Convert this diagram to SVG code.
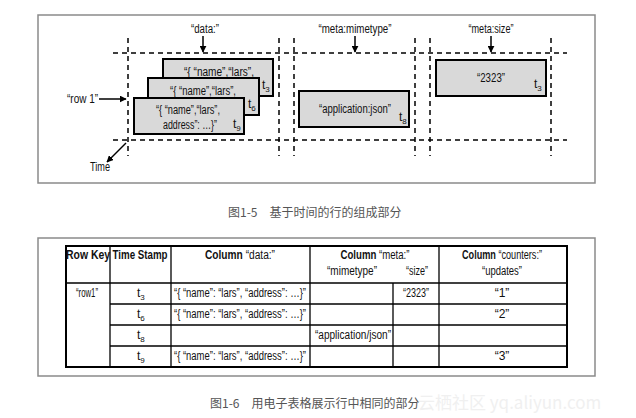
<svg xmlns="http://www.w3.org/2000/svg" width="636" height="418" viewBox="0 0 636 418">
<style>
.frame{fill:none;stroke:#8a8a8a;stroke-width:1.5}
.dash{stroke:#000;stroke-width:1.5;stroke-dasharray:5 4;fill:none}
.box{fill:#d9d9d9;stroke:#000;stroke-width:2}
.arr{stroke:#000;stroke-width:1.5;fill:none}
text{font-family:"Liberation Sans",Arial,sans-serif;fill:#111}
.t{font-size:12px}
.c{text-anchor:middle}
.b{font-weight:bold}
.grid{stroke:#000;stroke-width:1.3;fill:none}
.outer{stroke:#000;stroke-width:2;fill:none}
.cap{font-family:"Noto Sans CJK SC","Noto Sans",sans-serif;font-size:12px;fill:#555}
.wm{font-family:"Noto Sans CJK SC","Noto Sans",sans-serif;font-size:17px;fill:#f0f0f0}
</style>
<defs>
<marker id="ah" viewBox="0 0 10 10" refX="9" refY="5" markerWidth="7" markerHeight="7" orient="auto" markerUnits="userSpaceOnUse">
<path d="M0,0 L10,5 L0,10 z" fill="#000"/>
</marker>
</defs>
<rect width="636" height="418" fill="#fff"/>

<g id="figure1">
<rect class="frame" x="38" y="15" width="557" height="168"/>
<g id="grid-lines">
<line class="dash" x1="113" y1="53" x2="567" y2="53"/>
<line class="dash" x1="113" y1="140" x2="567" y2="140"/>
<line class="dash" x1="128" y1="38" x2="128" y2="156"/>
<line class="dash" x1="279" y1="38" x2="279" y2="156"/>
<line class="dash" x1="294" y1="38" x2="294" y2="156"/>
<line class="dash" x1="415" y1="38" x2="415" y2="156"/>
<line class="dash" x1="430" y1="38" x2="430" y2="156"/>
<line class="dash" x1="551" y1="38" x2="551" y2="156"/>
</g>
<g id="connectors">
<line class="arr" x1="203" y1="36" x2="203" y2="52" marker-end="url(#ah)"/>
<line class="arr" x1="355" y1="36" x2="355" y2="52" marker-end="url(#ah)"/>
<line class="arr" x1="491" y1="36" x2="491" y2="52" marker-end="url(#ah)"/>
<line class="arr" x1="99" y1="99" x2="126" y2="99" marker-end="url(#ah)"/>
<line class="arr" x1="126" y1="143" x2="107" y2="162" marker-end="url(#ah)"/>
</g>
<g id="label-data"><text class="t c" x="205" y="33" textLength="28" lengthAdjust="spacingAndGlyphs">“data:”</text></g>
<g id="label-mimetype"><text class="t c" x="355" y="33" textLength="73" lengthAdjust="spacingAndGlyphs">“meta:mimetype”</text></g>
<g id="label-size"><text class="t c" x="491" y="33" textLength="45" lengthAdjust="spacingAndGlyphs">“meta:size”</text></g>
<g id="label-row1"><text class="t" x="67" y="103" textLength="31" lengthAdjust="spacingAndGlyphs">“row 1”</text></g>
<g id="label-time"><text class="t c" x="100" y="171" textLength="20" lengthAdjust="spacingAndGlyphs">Time</text></g>
<g id="cell-t3">
<rect class="box" x="163" y="59" width="110" height="37"/>
<text class="t c" x="219" y="76" textLength="70" lengthAdjust="spacingAndGlyphs">“{ “name”,“lars”,</text>
<text class="t" x="262" y="89">t<tspan font-size="8" dy="3">3</tspan></text>
</g>
<g id="cell-t6">
<rect class="box" x="148" y="78" width="111" height="37"/>
<text class="t c" x="203" y="95" textLength="66" lengthAdjust="spacingAndGlyphs">“{ “name”,“lars”,</text>
<text class="t" x="248" y="108">t<tspan font-size="8" dy="3">6</tspan></text>
</g>
<g id="cell-t9">
<rect class="box" x="134" y="98" width="110" height="36"/>
<text class="t c" x="188" y="114" textLength="64" lengthAdjust="spacingAndGlyphs">“{ “name”,“lars”,</text>
<text class="t c" x="190" y="129" textLength="54" lengthAdjust="spacingAndGlyphs">address”: …}”</text>
<text class="t" x="233" y="128">t<tspan font-size="8" dy="3">9</tspan></text>
</g>
<g id="cell-t8">
<rect class="box" x="299" y="91" width="110" height="36"/>
<text class="t c" x="355" y="113" textLength="72" lengthAdjust="spacingAndGlyphs">“application:json”</text>
<text class="t" x="399" y="121">t<tspan font-size="8" dy="3">8</tspan></text>
</g>
<g id="cell-size">
<rect class="box" x="436" y="60" width="110" height="36"/>
<text class="t c" x="491" y="82" textLength="28" lengthAdjust="spacingAndGlyphs">“2323”</text>
<text class="t" x="534" y="88">t<tspan font-size="8" dy="3">3</tspan></text>
</g>
</g>
<text class="cap" x="228" y="217">图1-5　基于时间的行的组成部分</text>

<g id="figure2">
<rect class="frame" x="38" y="238" width="557" height="138"/>
<g id="table">
<rect class="outer" x="66" y="246" width="501" height="121"/>
<line class="grid" x1="110" y1="246" x2="110" y2="367"/>
<line class="grid" x1="171" y1="246" x2="171" y2="367"/>
<line class="grid" x1="310" y1="246" x2="310" y2="367"/>
<line class="grid" x1="439" y1="246" x2="439" y2="367"/>
<line class="grid" x1="393" y1="283" x2="393" y2="367"/>
<line class="grid" x1="66" y1="283" x2="567" y2="283"/>
<line class="grid" x1="110" y1="304" x2="567" y2="304"/>
<line class="grid" x1="110" y1="325" x2="567" y2="325"/>
<line class="grid" x1="110" y1="346" x2="567" y2="346"/>
</g>
<g id="header">
<text class="t c b" x="88" y="259" textLength="44" lengthAdjust="spacingAndGlyphs">Row Key</text>
<text class="t c b" x="140" y="259" textLength="55" lengthAdjust="spacingAndGlyphs">Time Stamp</text>
<text class="t c" x="240" y="259" textLength="70" lengthAdjust="spacingAndGlyphs"><tspan font-weight="bold">Column</tspan> “data:”</text>
<text class="t c" x="375" y="259" textLength="69" lengthAdjust="spacingAndGlyphs"><tspan font-weight="bold">Column</tspan> “meta:”</text>
<text class="t c" x="352" y="275" textLength="50" lengthAdjust="spacingAndGlyphs">“mimetype”</text>
<text class="t c" x="417" y="275" textLength="22" lengthAdjust="spacingAndGlyphs">“size”</text>
<text class="t c" x="502" y="259" textLength="80" lengthAdjust="spacingAndGlyphs"><tspan font-weight="bold">Column</tspan> “counters:”</text>
<text class="t c" x="502" y="275" textLength="40" lengthAdjust="spacingAndGlyphs">“updates”</text>
</g>
<g id="rows">
<text class="t c" x="87" y="297" textLength="22" lengthAdjust="spacingAndGlyphs">“row1”</text>
<text class="t" x="137" y="297">t<tspan font-size="8" dy="3">3</tspan></text>
<text class="t c" x="240" y="297" textLength="132" lengthAdjust="spacingAndGlyphs">“{ “name”: “lars”, “address”: …}”</text>
<text class="t c" x="416" y="297" textLength="26" lengthAdjust="spacingAndGlyphs">“2323”</text>
<text class="t c" x="502" y="297">“1”</text>
<text class="t" x="137" y="318">t<tspan font-size="8" dy="3">6</tspan></text>
<text class="t c" x="240" y="318" textLength="132" lengthAdjust="spacingAndGlyphs">“{ “name”: “lars”, “address”: …}”</text>
<text class="t c" x="502" y="318">“2”</text>
<text class="t" x="137" y="339">t<tspan font-size="8" dy="3">8</tspan></text>
<text class="t" x="315" y="339" textLength="76" lengthAdjust="spacingAndGlyphs">“application/json”</text>
<text class="t" x="137" y="360">t<tspan font-size="8" dy="3">9</tspan></text>
<text class="t c" x="240" y="360" textLength="132" lengthAdjust="spacingAndGlyphs">“{ “name”: “lars”, “address”: …}”</text>
<text class="t c" x="502" y="360">“3”</text>
</g>
</g>
<text class="cap" x="210" y="408">图1-6　用电子表格展示行中相同的部分</text>
<text class="wm" x="418" y="409">云栖社区 yq.aliyun.com</text>
</svg>
